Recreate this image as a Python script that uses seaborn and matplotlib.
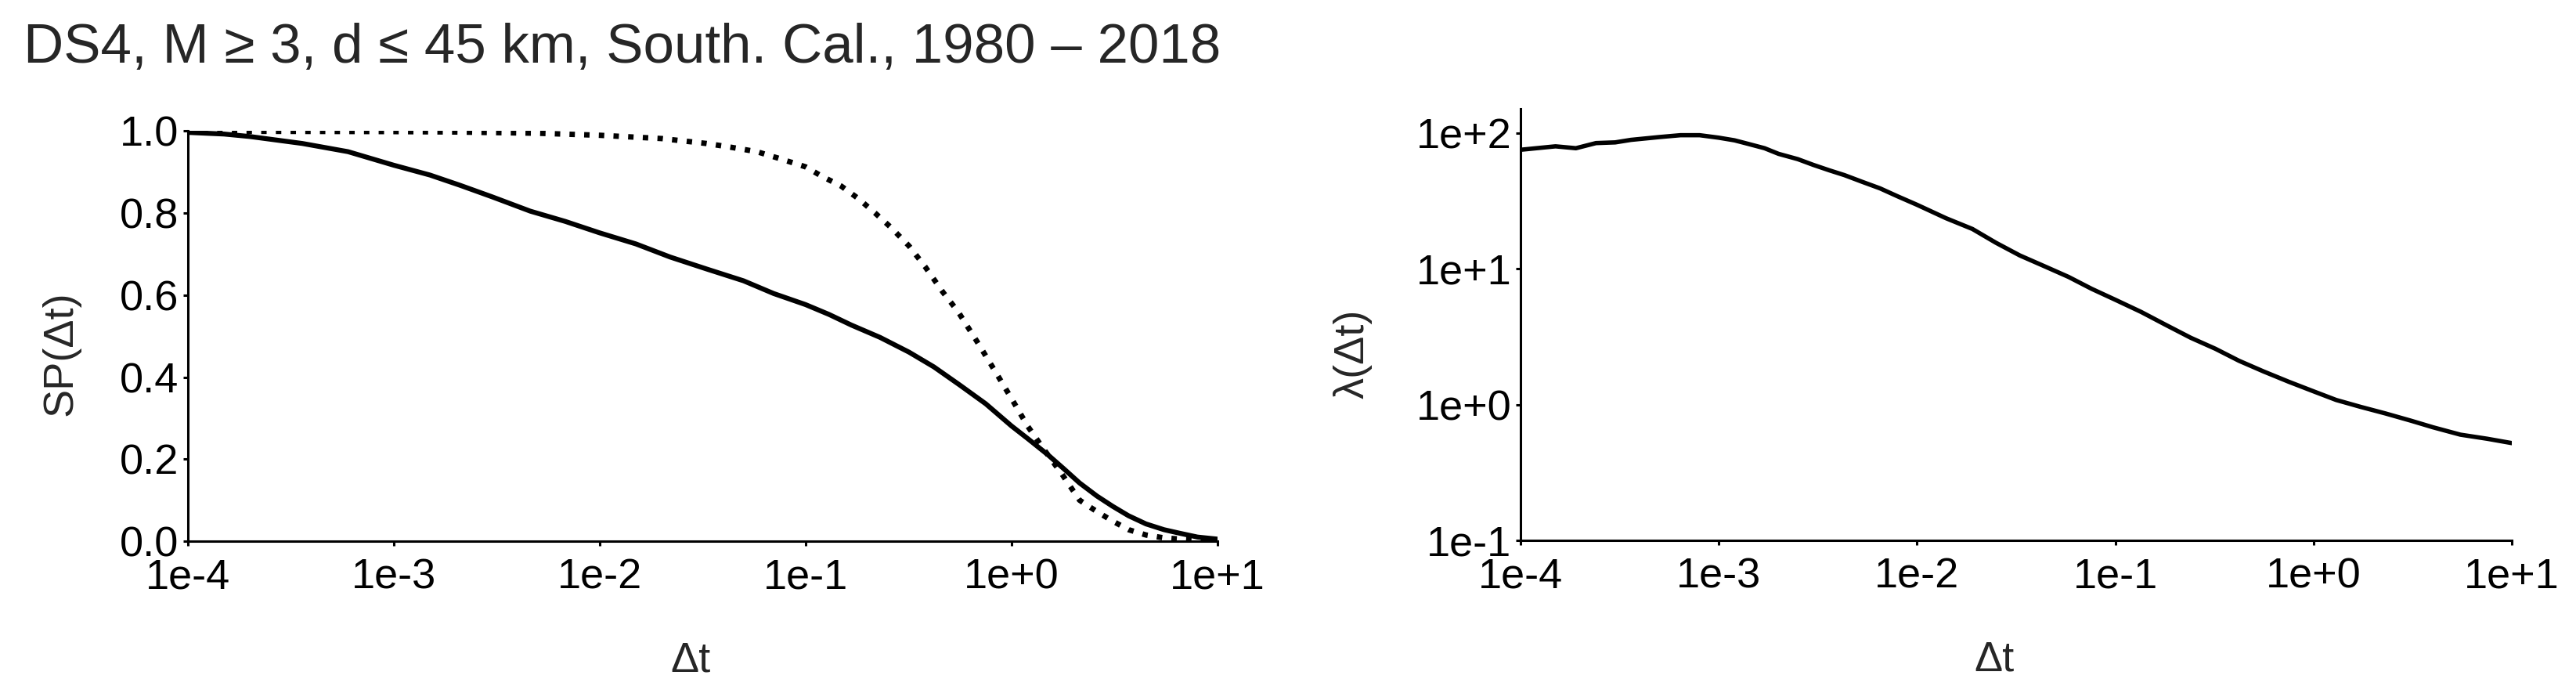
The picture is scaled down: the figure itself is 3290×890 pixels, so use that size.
import numpy as np
import pandas as pd
import matplotlib
matplotlib.use("Agg")
import matplotlib.pyplot as plt
import seaborn as sns

# survival probability, observed (solid)
dt_obs = [1e-4, 1.5e-4, 2e-4, 3.6e-4, 6e-4, 1e-3, 1.5e-3, 2.1e-3, 3e-3, 4.6e-3,
          6.8e-3, 1e-2, 1.5e-2, 2.2e-2, 3.3e-2, 5e-2, 7e-2, 0.1, 0.13, 0.167,
          0.23, 0.318, 0.42, 0.56, 0.75, 1.0, 1.2, 1.5, 1.8, 2.14, 2.6, 3.1,
          3.7, 4.5, 5.5, 6.6, 8.0, 10.0]
sp_obs = [0.997, 0.993, 0.987, 0.97, 0.95, 0.917, 0.893, 0.868, 0.84, 0.805,
          0.78, 0.752, 0.725, 0.693, 0.664, 0.635, 0.604, 0.577, 0.553, 0.527,
          0.497, 0.461, 0.425, 0.381, 0.335, 0.281, 0.25, 0.211, 0.176, 0.142, 0.11, 0.085,
          0.062, 0.042, 0.028, 0.019, 0.01, 0.005]

# survival probability, reference (dotted)
dt_ref = [1e-4, 1e-3, 2e-3, 5e-3, 1e-2, 2e-2, 3.3e-2, 4.2e-2, 5.8e-2, 7.5e-2,
          0.1, 0.12, 0.149, 0.18, 0.218, 0.26, 0.318, 0.38, 0.465, 0.55,
          0.68, 0.82, 1.0, 1.2, 1.45, 1.75, 2.14, 2.6, 3.1, 3.7, 4.5, 5.5,
          6.6, 8.0, 10.0]
sp_ref = [1.0, 0.999, 0.998, 0.995, 0.99, 0.982, 0.97, 0.962, 0.95, 0.933,
          0.913, 0.89, 0.866, 0.836, 0.80, 0.765, 0.72, 0.67, 0.607, 0.56,
          0.487, 0.42, 0.348, 0.28, 0.221, 0.165, 0.10, 0.072, 0.049, 0.028, 0.015, 0.008,
          0.005, 0.002, 0.0]

# rate lambda(dt)
dt_lam = [1e-4, 1.2e-4, 1.5e-4, 1.9e-4, 2.4e-4, 3e-4, 3.6e-4, 5e-4, 6.4e-4, 8e-4,
          1e-3, 1.2e-3, 1.4e-3, 1.7e-3, 2e-3, 2.5e-3, 3e-3, 3.6e-3, 4.3e-3, 5.3e-3,
          6.5e-3, 8e-3, 1e-2, 1.4e-2, 1.9e-2, 2.5e-2, 3.3e-2, 4.4e-2, 5.8e-2, 7.6e-2,
          0.1, 0.135, 0.18, 0.24, 0.32, 0.42, 0.56, 0.75, 1.0, 1.3,
          1.73, 2.3, 3.1, 4.0, 5.5, 7.5, 10.0]
lam = [75, 77, 79.5, 77, 84, 85, 88.7, 93, 96, 96,
       92, 88, 83, 77, 70, 64, 58, 53, 48.8, 43.5,
       39, 34, 29.5, 23.5, 19.6, 15.5, 12.5, 10.4, 8.7, 7.1,
       5.9, 4.8, 3.85, 3.1, 2.57, 2.1, 1.75, 1.47, 1.25, 1.08,
       0.96, 0.86, 0.76, 0.68, 0.60, 0.56, 0.52]

x_ticks = [1e-4, 1e-3, 1e-2, 1e-1, 1e0, 1e1]
x_labels = ["1e-4", "1e-3", "1e-2", "1e-1", "1e+0", "1e+1"]
sp_ticks = [0.0, 0.2, 0.4, 0.6, 0.8, 1.0]
lam_ticks = [1e-1, 1e0, 1e1, 1e2]
lam_labels = ["1e-1", "1e+0", "1e+1", "1e+2"]

sns.set_style("ticks")
plt.rcParams['font.family'] = ['Liberation Sans', 'DejaVu Sans']
plt.rcParams['axes.linewidth'] = 2.2
plt.rcParams['xtick.major.width'] = 2.2
plt.rcParams['ytick.major.width'] = 2.2
plt.rcParams['xtick.major.size'] = 4.5
plt.rcParams['ytick.major.size'] = 4.5
plt.rcParams['xtick.color'] = 'black'
plt.rcParams['ytick.color'] = 'black'
plt.rcParams['axes.edgecolor'] = 'black'

fs = 39

fig = plt.figure(figsize=(32.9, 8.9), dpi=100)
ax1 = fig.add_axes([0.0729, 0.2236, 0.3997, 0.5882])
ax2 = fig.add_axes([0.5903, 0.2247, 0.3848, 0.6191])

df_obs = pd.DataFrame({"dt": dt_obs, "sp": sp_obs})
df_ref = pd.DataFrame({"dt": dt_ref, "sp": sp_ref})
df_lam = pd.DataFrame({"dt": dt_lam, "lam": lam})

sns.lineplot(data=df_ref, x="dt", y="sp", ax=ax1, color="black", lw=5,
             estimator=None, sort=False)
ax1.lines[-1].set_dashes((1, 1.7))
sns.lineplot(data=df_obs, x="dt", y="sp", ax=ax1, color="black", lw=4.5,
             estimator=None, sort=False)
sns.lineplot(data=df_lam, x="dt", y="lam", ax=ax2, color="black", lw=4,
             estimator=None, sort=False)

for ax in (ax1, ax2):
    ax.set_xscale("log")
    ax.set_xlim(1e-4, 1e1)
    ax.set_xticks(x_ticks)
    ax.set_xticklabels(x_labels)
    ax.minorticks_off()
    ax.tick_params(labelsize=fs, pad=4)
    ax.tick_params(axis="x", pad=11)
    ax.set_xlabel("Δt", fontsize=fs, labelpad=40)
    sns.despine(ax=ax)

ax1.set_ylim(0, 1)
ax1.set_yticks(sp_ticks)
ax1.set_yticklabels([f"{v:.1f}" for v in sp_ticks])
ax1.set_ylabel("SP(Δt)", fontsize=fs, labelpad=36)

ax2.set_yscale("log")
ax2.set_ylim(0.1, 150)
ax2.set_yticks(lam_ticks)
ax2.set_yticklabels(lam_labels)
ax2.minorticks_off()
ax2.set_ylabel("λ(Δt)", fontsize=fs, labelpad=40)

# labels sit a little off-centre in the original
ax1.xaxis.label.set_x(0.488)
ax2.xaxis.label.set_x(0.478)
ax1.yaxis.label.set_y(0.458)
ax2.yaxis.label.set_y(0.432)

fig.text(0.009, 0.91, "DS4, M ≥ 3, d ≤ 45 km, South. Cal., 1980 – 2018",
         fontsize=51, va="baseline", ha="left")

fig.savefig("out.png", dpi=100)
